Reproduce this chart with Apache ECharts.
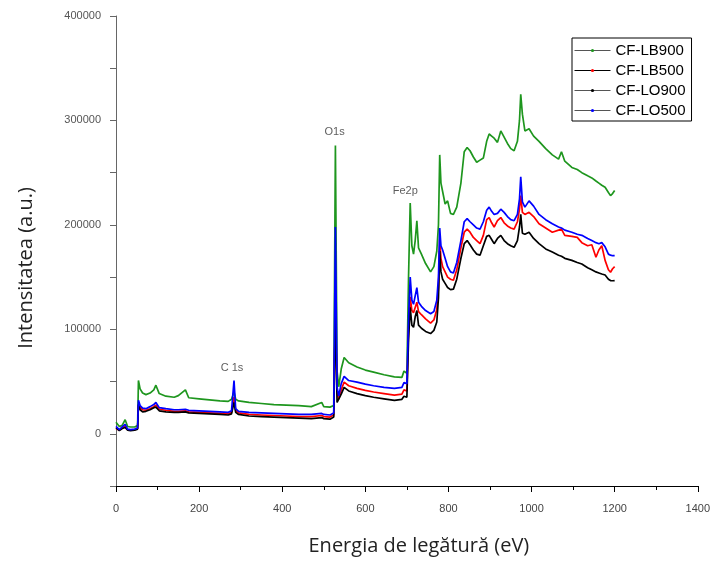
<!DOCTYPE html>
<html>
<head>
<meta charset="utf-8">
<script src="https://cdn.jsdelivr.net/npm/echarts@6/dist/echarts.min.js"></script>
<style>
	html, body { margin: 0; padding: 0; background: #fff; }
	#chart { width: 713px; height: 561px; }
</style>
</head>
<body>
<div id="chart"></div>
<script>
// binding energy (eV), shared by all four spectra
var energy = [
	0, 8, 15, 22, 28, 35, 45, 52, 54, 58,
	64, 72, 82, 91, 96, 104, 120, 140, 150, 167,
	175, 200, 225, 250, 270, 278, 284, 288, 295, 320,
	350, 380, 410, 440, 470, 495, 500, 515, 524, 528,
	532, 536, 542, 549, 560, 580, 600, 620, 645, 670,
	688, 693, 700, 704, 708, 712, 716, 720, 724, 728,
	735, 745, 757, 765, 772, 776, 779, 782, 786, 792,
	798, 805, 812, 820, 830, 838, 845, 852, 860, 868,
	876, 884, 892, 898, 904, 910, 918, 926, 934, 942,
	950, 958, 966, 971, 974, 978, 984, 994, 1005, 1018,
	1034, 1050, 1065, 1072, 1080, 1097, 1110, 1121, 1135, 1145,
	1155, 1162, 1169, 1177, 1185, 1190, 1195, 1200
];

var lb900 = [
	11000, 7000, 8000, 13500, 7000, 6500, 6500, 8000, 51000, 43000,
	39000, 37500, 39000, 42000, 46500, 38500, 36000, 35000, 36500, 42000,
	34500, 33500, 32500, 31500, 31000, 33000, 40000, 33000, 31500, 30000,
	29000, 28000, 27500, 27000, 26000, 30000, 26000, 25500, 27000, 276000,
	60000, 45000, 62000, 73000, 68000, 64000, 61000, 59000, 56500, 54500,
	54000, 60000, 58000, 150000, 221000, 180000, 172000, 185000, 204000, 178000,
	172000, 163000, 155000, 160000, 175000, 200000, 267000, 240000, 232000, 220000,
	223000, 211000, 210000, 217000, 240000, 270000, 274000, 271000, 265000, 260000,
	262000, 264000, 280000, 287000, 285000, 283000, 279000, 290000, 284000, 278000,
	273000, 271000, 280000, 300000, 325000, 306000, 290000, 292000, 285000, 280000,
	273000, 267000, 263000, 270000, 261000, 255000, 253000, 250000, 247000, 245000,
	242000, 240000, 238000, 236000, 231000, 228000, 230000, 233000
];

var lb500 = [
	5000, 3500, 5500, 7000, 4000, 3500, 4000, 5000, 27000, 25000,
	23000, 22500, 24000, 26000, 27500, 23500, 22500, 21500, 21500, 22000,
	21000, 20500, 20000, 19500, 19000, 20500, 35000, 22500, 20000, 18500,
	18000, 17500, 17000, 16500, 16500, 17500, 16500, 16000, 18000, 125000,
	40000, 33000, 42000, 49500, 46000, 43500, 41500, 40000, 38500, 37000,
	38000, 42000, 41000, 100000, 131000, 118000, 116000, 121000, 126000, 117000,
	114000, 110000, 106000, 109000, 119000, 140000, 186000, 168000, 160000, 155000,
	150000, 148000, 147000, 157000, 178000, 193000, 196000, 193000, 188000, 185000,
	182000, 190000, 205000, 207000, 202000, 198000, 204000, 207000, 202000, 199000,
	197000, 196000, 203000, 215000, 228000, 212000, 210000, 212000, 208000, 201000,
	197000, 193000, 195000, 196000, 190000, 189000, 188000, 183000, 180000, 181000,
	169000, 176000, 180000, 166000, 157000, 154700, 158000, 160000
];

var lo900 = [
	6000, 3000, 5000, 6000, 3500, 3000, 3500, 4500, 28000, 23000,
	21000, 21500, 23000, 25000, 25500, 22000, 21000, 20500, 20500, 21000,
	20000, 19500, 19000, 18500, 18000, 19000, 30000, 20500, 18500, 17000,
	16500, 16000, 15500, 15000, 14500, 15500, 14500, 14000, 16000, 120000,
	30000, 29000, 38000, 44500, 41000, 38500, 36500, 35000, 33500, 32000,
	33000, 36000, 35000, 90000, 121000, 104000, 102000, 112000, 118000, 104000,
	101000, 98000, 96000, 99000, 107000, 130000, 175000, 155000, 148000, 144000,
	140000, 138000, 138500, 148000, 168000, 182000, 185000, 181000, 176000, 172000,
	171000, 180000, 189000, 190000, 186000, 182000, 187000, 190000, 185000, 182000,
	180000, 178500, 185000, 198000, 210000, 192000, 191000, 193000, 187000, 182000,
	177000, 174000, 171000, 170000, 168000, 166000, 164000, 162500, 159000, 157000,
	155000, 154000, 153000, 152000, 148000, 146700, 146500, 146700
];

var lo500 = [
	7000, 4000, 6500, 9000, 4500, 4000, 4500, 5500, 32000, 27000,
	24500, 24000, 26000, 28000, 30000, 25000, 24000, 23000, 23000, 23500,
	22500, 22000, 21500, 21000, 20500, 22000, 51000, 24000, 21500, 20500,
	20000, 19500, 19000, 18500, 18500, 19500, 18500, 18000, 20000, 198000,
	45000, 36000, 48000, 55000, 51000, 49500, 47500, 46000, 44500, 43500,
	44500, 49000, 48000, 110000, 150000, 128000, 124000, 132000, 140000, 126000,
	122000, 118000, 115000, 117000, 128000, 150000, 197000, 180000, 176000, 168000,
	160000, 155000, 154000, 164000, 185000, 203000, 206000, 203000, 200000, 197000,
	196000, 203000, 214000, 217000, 213000, 210000, 211000, 215000, 212000, 208000,
	205000, 204000, 210000, 225000, 246000, 222000, 217000, 223000, 218000, 210000,
	205000, 201000, 198000, 197000, 195000, 193000, 191000, 190000, 187000, 185000,
	183000, 182000, 183000, 179000, 172000, 171000, 170500, 170500
];

var seriesNames = ['CF-LB900', 'CF-LB500', 'CF-LO900', 'CF-LO500'];
var seriesColors = ['#1e961e', '#ff0000', '#000000', '#0000ff'];
var legendLineColors = ['#555555', '#000000', '#555555', '#555555'];

// peak labels
var peakNames = ['C 1s', 'O1s', 'Fe2p'];
var peakEnergy = [279, 526, 696];
var peakLevel = [63000, 289000, 232000];

var chart = echarts.init(document.getElementById('chart'));

function pairs(vals) {
	return energy.map(function(e, i) {
		return [e, vals[i]];
	});
}

var allVals = [lb900, lb500, lo900, lo500];
var series = allVals.map(function(vals, i) {
	return {
		name: seriesNames[i],
		type: 'line',
		data: pairs(vals),
		symbol: 'circle',
		symbolSize: 3,
		showSymbol: false,
		animation: false,
		itemStyle: { color: seriesColors[i] },
		lineStyle: { color: seriesColors[i], width: 1.7 },
		z: 2 + i
	};
});

series.push({
	type: 'scatter',
	symbolSize: 0,
	silent: true,
	animation: false,
	data: peakNames.map(function(n, i) {
		return { name: n, value: [peakEnergy[i], peakLevel[i]] };
	}),
	label: {
		show: true,
		position: 'inside',
		formatter: '{b}',
		fontFamily: 'Liberation Sans',
		fontSize: 11,
		color: '#333'
	}
});

var option = {
	backgroundColor: '#fff',
	animation: false,
	grid: {
		left: 116,
		right: 9,
		top: 16,
		bottom: 74
	},
	legend: {
		orient: 'vertical',
		left: 572,
		top: 38,
		padding: [5, 6, 3, 2],
		itemWidth: 36,
		itemHeight: 4,
		itemGap: 5,
		borderColor: '#000',
		borderWidth: 1,
		backgroundColor: '#fff',
		textStyle: {
			fontFamily: 'Liberation Sans',
			fontSize: 15,
			color: '#000'
		},
		data: seriesNames.map(function(n, i) {
			return {
				name: n,
				itemStyle: { color: seriesColors[i] },
				lineStyle: { color: legendLineColors[i], width: 1 }
			};
		})
	},
	xAxis: {
		type: 'value',
		min: 0,
		max: 1400,
		interval: 200,
		name: 'Energia de legătură (eV)',
		nameLocation: 'middle',
		nameGap: 50,
		nameTextStyle: {
			fontFamily: 'Open Sans',
			fontSize: 20,
			color: '#222',
			padding: [0, 0, 0, 24]
		},
		axisLine: { onZero: false, lineStyle: { color: '#000', width: 1 } },
		axisTick: { length: 6, lineStyle: { color: '#000' } },
		minorTick: { show: true, splitNumber: 2, length: 4, lineStyle: { color: '#000' } },
		splitLine: { show: false },
		axisLabel: {
			margin: 17,
			fontFamily: 'Liberation Sans',
			fontSize: 11,
			color: '#444',
			formatter: function(v) {
				return String(v);
			}
		}
	},
	yAxis: {
		type: 'value',
		min: -50000,
		max: 400000,
		interval: 50000,
		name: 'Intensitatea (a.u.)',
		nameLocation: 'middle',
		nameGap: 80,
		nameTextStyle: {
			fontFamily: 'Open Sans',
			fontSize: 20,
			color: '#222',
			padding: [0, 34, 0, 0]
		},
		axisLine: { show: true, onZero: false, lineStyle: { color: '#666', width: 1 } },
		axisTick: { length: 6, lineStyle: { color: '#666' } },
		splitLine: { show: false },
		axisLabel: {
			margin: 15,
			fontFamily: 'Liberation Sans',
			fontSize: 11,
			color: '#555',
			formatter: function(v) {
				return (v >= 0 && v % 100000 === 0) ? String(v) : '';
			}
		}
	},
	series: series
};

chart.setOption(option);
</script>
</body>
</html>
